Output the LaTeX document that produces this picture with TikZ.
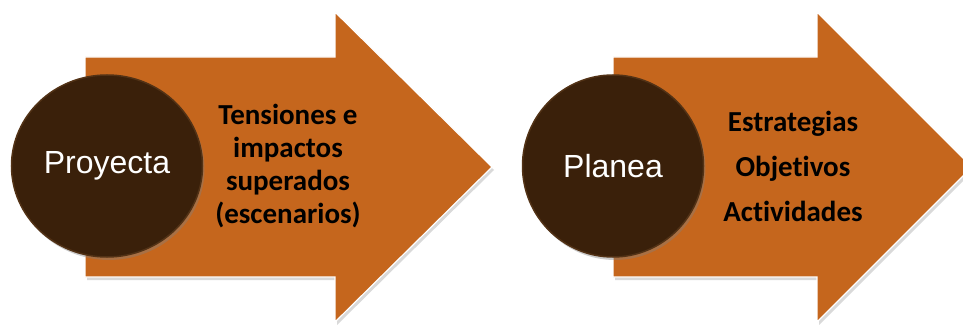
\documentclass[tikz,border=0pt]{standalone}
\usepackage{fontspec}
\setmainfont{Carlito}[Ligatures=NoCommon]
\newfontfamily\arialfont{Liberation Sans}
\usetikzlibrary{shapes,shadows,positioning}
\definecolor{arrowfill}{RGB}{197,102,29}
\definecolor{stagefill}{RGB}{58,32,10}
\definecolor{stagerim}{RGB}{82,50,22}

\begin{document}
\begin{tikzpicture}[x=1pt, y=1pt]
    % Define styles
    \tikzstyle{bigarrow} = [fill=arrowfill, draw=white, line width=1.2pt, drop shadow={shadow xshift=2pt, shadow yshift=-3pt, opacity=0.3}]
    \tikzstyle{stage} = [ellipse, fill=stagefill, draw=stagerim, line width=1.5pt, inner sep=0pt, text=white, font=\arialfont\fontsize{32}{36}\selectfont, drop shadow={shadow xshift=2pt, shadow yshift=-3pt, opacity=0.4}]
    \tikzstyle{detail} = [align=center, font=\bfseries\fontsize{29}{33}\selectfont]

    \useasboundingbox (0,0) rectangle (963,324);

    % Arrow 1
    \path[bigarrow] (85,47) -- (85,267) -- (335,267) -- (335,312) -- (492,157) -- (335,2) -- (335,47) -- cycle;

    % Arrow 2
    \path[bigarrow] (613,47) -- (613,267) -- (817,267) -- (817,312) -- (972,157) -- (817,2) -- (817,47) -- cycle;

    % Stages
    \node[stage, minimum width=191pt, minimum height=182pt] (proyecta) at (107,158) {Proyecta};
    \node[stage, minimum width=181pt, minimum height=182pt] (planea) at (613,158) {Planea};

    % Details
    \node[detail] (tensiones) at (288,158) {Tensiones e\\impactos\\superados\\(escenarios)};
    \node[detail, font=\bfseries\fontsize{29}{45}\selectfont] (estrategias) at (793,158) {Estrategias\\Objetivos\\Actividades};
\end{tikzpicture}
\end{document}
